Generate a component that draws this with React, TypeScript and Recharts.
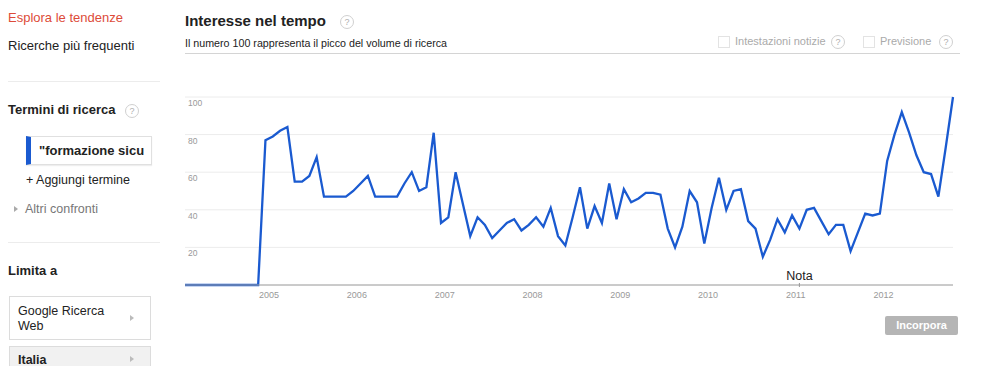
import React from 'react';
import { LineChart, Line, XAxis, YAxis, CartesianGrid, ReferenceDot } from 'recharts';

const monthNames = ['gen', 'feb', 'mar', 'apr', 'mag', 'giu', 'lug', 'ago', 'set', 'ott', 'nov', 'dic'];
const years = [2004, 2005, 2006, 2007, 2008, 2009, 2010, 2011, 2012];

const values = [
  0, 0, 0, 0, 0, 0, 0, 0, 0, 0, 0,
  77, 79, 82, 84, 55, 55, 58, 68, 47, 47, 47, 47, 50, 54, 58, 47, 47, 47, 47,
  54, 60, 50, 52, 81, 33, 36, 60, 43, 26, 36, 32, 25, 29, 33, 35, 29, 32, 36,
  31, 41, 26, 21, 36, 52, 30, 42, 33, 54, 35, 51, 44, 46, 49, 49, 48, 30, 20,
  31, 50, 44, 22, 41, 57, 40, 50, 51, 34, 30, 15, 24, 35, 28, 37, 30, 40, 41,
  34, 27, 32, 32, 18, 28, 38, 37, 38, 66, 80, 92, 81, 69, 60, 59, 47, 73, 100,
];

const yearTickLabels = ['2005', '2006', '2007', '2008', '2009', '2010', '2011', '2012'];
const yearTickPositions = [11.5, 23.5, 35.5, 47.5, 59.5, 71.5, 83.5, 95.5];
const yTicks = [20, 40, 60, 80, 100];
const notaIndex = 84;

const months: string[] = [];
years.forEach((y) => monthNames.forEach((m) => months.push(`${m} ${y}`)));

const data = values.map((v, i) => ({ i, month: months[i], value: v }));

const FONT = '"Liberation Sans", Arial, sans-serif';

const Help = ({ x, y }: { x: number; y: number }) => (
  <div
    style={{
      position: 'absolute', left: x - 7, top: y - 7, width: 12, height: 12,
      border: '1px solid #d0d0d0', borderRadius: '50%', color: '#b0b0b0',
      fontSize: 9, lineHeight: '12px', textAlign: 'center', fontFamily: FONT,
    }}
  >?</div>
);

const Txt = ({ x, y, size = 13, color = '#222', bold = false, children }: any) => (
  <div
    style={{
      position: 'absolute', left: x, top: y - size * 0.6, fontSize: size, lineHeight: `${size * 1.2}px`,
      color, fontWeight: bold ? 'bold' : 'normal', fontFamily: FONT, whiteSpace: 'nowrap',
    }}
  >{children}</div>
);

const Arrow = ({ x, y, color = '#999' }: any) => (
  <div
    style={{
      position: 'absolute', left: x, top: y - 3, width: 0, height: 0,
      borderTop: '3px solid transparent', borderBottom: '3px solid transparent',
      borderLeft: `4px solid ${color}`,
    }}
  />
);

const renderYTick = (props: any) => {
  const { y, payload } = props;
  return (
    <text x={13} y={y + 9} fill="#999" fontSize={8.5} fontFamily={FONT} textAnchor="start">
      {payload.value}
    </text>
  );
};

const NotaShape = (props: any) => {
  const { cx, cy } = props;
  return (
    <g>
      <line x1={cx} y1={cy - 2} x2={cx} y2={cy + 2} stroke="#999" strokeWidth={1} />
      <text x={cx} y={cy - 5} textAnchor="middle" fill="#222" fontSize={12.5} fontFamily={FONT}>Nota</text>
    </g>
  );
};

export default function App() {
  return (
    <div style={{ position: 'absolute', left: 0, top: 0, width: 995, height: 366, background: '#fff', overflow: 'hidden', fontFamily: FONT }}>
      {/* Sidebar */}
      <Txt x={8} y={18} color="#dd4b39">Esplora le tendenze</Txt>
      <Txt x={8} y={46}>Ricerche più frequenti</Txt>
      <div style={{ position: 'absolute', left: 8, top: 81, width: 152, height: 1, background: '#ececec' }} />
      <Txt x={8} y={110} bold>Termini di ricerca</Txt>
      <Help x={132} y={111} />
      <div
        style={{
          position: 'absolute', left: 26, top: 136, width: 120, height: 27,
          borderLeft: '5px solid #1a5ad0', borderTop: '1px solid #e0e0e0', borderRight: '1px solid #e0e0e0',
          borderBottom: '1px solid #e0e0e0', boxShadow: '0 1px 1px #eee',
        }}
      >
        <div style={{ position: 'absolute', left: 8, top: 6, fontSize: 13, fontWeight: 'bold', color: '#222', whiteSpace: 'nowrap', lineHeight: '16px' }}>
          "formazione sicu
        </div>
      </div>
      <Txt x={26} y={180} size={12.5}>+ Aggiungi termine</Txt>
      <Arrow x={14} y={209} color="#aaa" />
      <Txt x={25} y={209} size={12.5} color="#777">Altri confronti</Txt>
      <div style={{ position: 'absolute', left: 8, top: 242, width: 152, height: 1, background: '#ececec' }} />
      <Txt x={8} y={271} bold>Limita a</Txt>
      <div style={{ position: 'absolute', left: 9, top: 296, width: 140, height: 42, border: '1px solid #dcdcdc', background: '#fff' }} />
      <Txt x={18} y={311} size={12.5}>Google Ricerca</Txt>
      <Txt x={18} y={326} size={12.5}>Web</Txt>
      <Arrow x={130} y={318} color="#bbb" />
      <div style={{ position: 'absolute', left: 9, top: 346, width: 140, height: 30, border: '1px solid #dcdcdc', background: '#f1f1f1' }} />
      <Txt x={18} y={360} bold size={12.5}>Italia</Txt>
      <Arrow x={130} y={359} color="#bbb" />

      {/* Header */}
      <Txt x={185} y={21} bold size={15}>Interesse nel tempo</Txt>
      <Help x={347} y={22} />
      <Txt x={185} y={43} size={10.7}>Il numero 100 rappresenta il picco del volume di ricerca</Txt>
      <div style={{ position: 'absolute', left: 185, top: 53, width: 775, height: 1, background: '#d4d4d4' }} />
      <div style={{ position: 'absolute', left: 718, top: 36, width: 10, height: 10, border: '1px solid #e3e3e3' }} />
      <Txt x={735} y={42} size={11} color="#aaa">Intestazioni notizie</Txt>
      <Help x={838} y={42} />
      <div style={{ position: 'absolute', left: 863, top: 36, width: 10, height: 10, border: '1px solid #e3e3e3' }} />
      <Txt x={880} y={42} size={11} color="#aaa">Previsione</Txt>
      <Help x={946} y={42} />

      {/* Chart */}
      <div style={{ position: 'absolute', left: 175, top: 80 }}>
        <LineChart width={800} height={230} data={data} margin={{ top: 17, right: 22, bottom: 5, left: 0 }}>
          <CartesianGrid horizontal vertical={false} stroke="#ececec" strokeWidth={1} />
          <XAxis
            dataKey="i"
            type="number"
            domain={[0, 105]}
            ticks={yearTickPositions}
            tickFormatter={(v: number) => yearTickLabels[yearTickPositions.indexOf(v)] ?? ''}
            tickLine={false}
            tickSize={0}
            tickMargin={7}
            axisLine={{ stroke: '#a0a0a0' }}
            tick={{ fill: '#999', fontSize: 9, fontFamily: FONT }}
            height={20}
            interval={0}
          />
          <YAxis
            type="number"
            domain={[0, 100]}
            ticks={yTicks}
            width={10}
            axisLine={false}
            tickLine={false}
            tick={renderYTick}
            interval={0}
          />
          <ReferenceDot x={notaIndex} y={0} shape={<NotaShape />} ifOverflow="visible" />
          <Line
            type="linear"
            dataKey="value"
            stroke="#1a5ad0"
            strokeWidth={2.3}
            dot={false}
            isAnimationActive={false}
          />
        </LineChart>
      </div>

      {/* Incorpora button */}
      <div
        style={{
          position: 'absolute', left: 885, top: 316, width: 73, height: 19, background: '#b5b5b5',
          color: '#fff', fontWeight: 'bold', fontSize: 11, lineHeight: '19px', textAlign: 'center', borderRadius: 2,
        }}
      >Incorpora</div>
    </div>
  );
}
